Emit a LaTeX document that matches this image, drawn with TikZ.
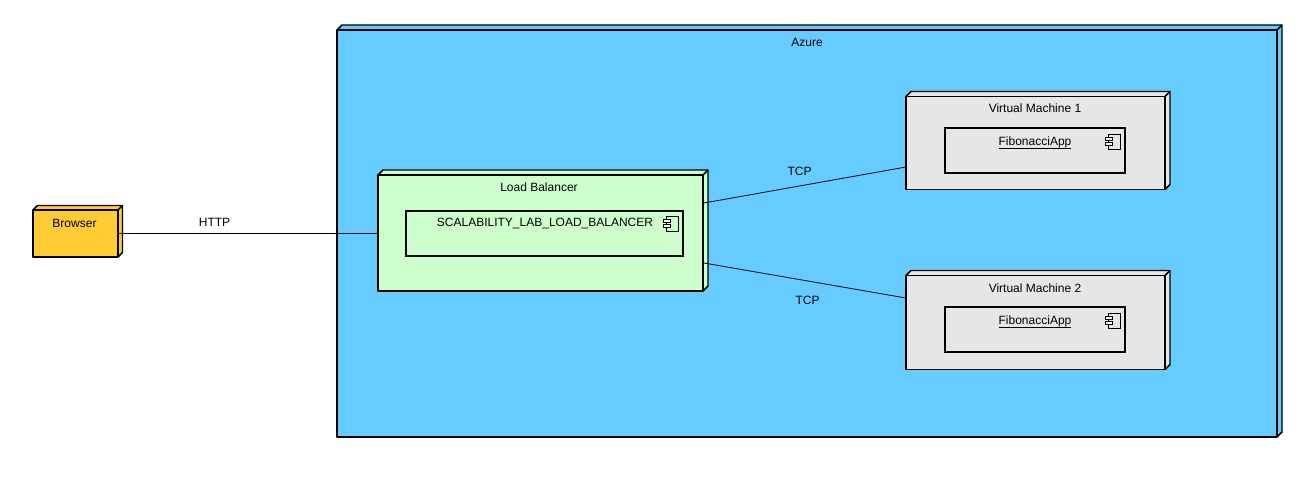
\documentclass[tikz,border=0pt]{standalone}
\usepackage{fontspec}
\setmainfont{Liberation Sans}
\usetikzlibrary{calc}
\definecolor{azureblue}{RGB}{102,204,255}
\definecolor{lbgreen}{RGB}{204,255,204}
\definecolor{vmgray}{RGB}{230,230,230}
\definecolor{brw}{RGB}{255,204,51}
\tikzset{
  x=0.75pt,y=-0.75pt,
  edgeline/.style={draw=black,line width=0.6pt},
  outline/.style={draw=black,line width=1.4pt,line join=round},
  backface/.style={draw=black,line width=1.1pt,line join=round},
  compbox/.style={draw=black,line width=1.5pt,fill=none,inner sep=0pt},
  shell/.style={inner sep=0pt,outer sep=0pt},
  lbl/.style={font=\fontsize{9}{11}\selectfont,inner sep=0pt,text=black},
  glyph/.style={draw=black,line width=0.6pt}
}
% name, centre x, centre y, width, height, depth, fill
\newcommand{\deploybox}[7]{%
  \node[shell,minimum width=#4*0.75pt,minimum height=#5*0.75pt] (#1) at (#2,#3) {};
  \fill[#7] (#1.north west) -- ++(#6,-#6) -- ($(#1.north east)+(#6,-#6)$) -- ($(#1.south east)+(#6,-#6)$) -- (#1.south east) -- (#1.south west) -- cycle;
  \draw[backface] (#1.north west) -- ++(#6,-#6) -- ($(#1.north east)+(#6,-#6)$) -- ($(#1.south east)+(#6,-#6)$) -- (#1.south east);
  \draw[backface] (#1.north east) -- ++(#6,-#6);
  \draw[outline] (#1.north west) rectangle (#1.south east);
}
% component icon, top-left x,y
\newcommand{\compicon}[2]{%
  \draw[glyph] (#1+3,#2) rectangle (#1+15,#2+15);
  \draw[glyph,fill=white] (#1,#2+3.5) rectangle (#1+7,#2+6.5);
  \draw[glyph,fill=white] (#1,#2+8.5) rectangle (#1+7,#2+11.5);
}
\newcommand{\ul}[1]{\underline{\rule[-1.2pt]{0pt}{1pt}\smash{#1}}}
\begin{document}
\begin{tikzpicture}
\useasboundingbox (0,0) rectangle (1304,487);
\fill[white] (0,0) rectangle (1304,487);
% Deployment boxes
\deploybox{azure}{807}{233.5}{940}{407}{5}{azureblue}
\deploybox{browser}{75.5}{233.5}{85}{47}{4.5}{brw}
\deploybox{lb}{540.5}{233}{325}{116}{5}{lbgreen}
\deploybox{vma}{1035.5}{143}{259}{93}{5}{vmgray}
\deploybox{vmb}{1035.5}{322.5}{259}{94}{5}{vmgray}
% Connectors
\draw[edgeline] (browser.east) -- (browser.east -| lb.west);
\draw[edgeline] ($(lb.east)+(1,-30)$) -- ($(vma.west)+(0,24)$);
\draw[edgeline] ($(lb.east)+(1,30)$) -- ($(vmb.west)+(0,-24.5)$);
% Component boxes
\node[compbox,minimum width=277*0.75pt,minimum height=45*0.75pt] (lbc) at (544.5,233) {};
\node[compbox,minimum width=180*0.75pt,minimum height=45*0.75pt] (fa) at (1035,150.5) {};
\node[compbox,minimum width=180*0.75pt,minimum height=45*0.75pt] (fb) at (1035,329.5) {};
\compicon{663.5}{216}
\compicon{1105.5}{134}
\compicon{1105.5}{313}
% Labels
\node[lbl] (azt) at (807,42) {Azure};
\node[lbl] (brt) at (74.5,223) {Browser};
\node[lbl] (lbt) at (539,187) {Load Balancer};
\node[lbl] (vat) at (1035,108) {Virtual Machine 1};
\node[lbl] (vbt) at (1035,288) {Virtual Machine 2};
\node[lbl] (lct) at (545,223.5) {SCALABILITY\_LAB\_LOAD\_BALANCER};
\node[lbl,anchor=base] (fat) at (1035,145) {\ul{FibonacciApp}};
\node[lbl,anchor=base] (fbt) at (1035,324) {\ul{FibonacciApp}};
\node[lbl] (http) at (214.5,222) {HTTP};
\node[lbl] (tcpa) at (799.5,171) {TCP};
\node[lbl] (tcpb) at (807.5,300) {TCP};
\end{tikzpicture}
\end{document}
